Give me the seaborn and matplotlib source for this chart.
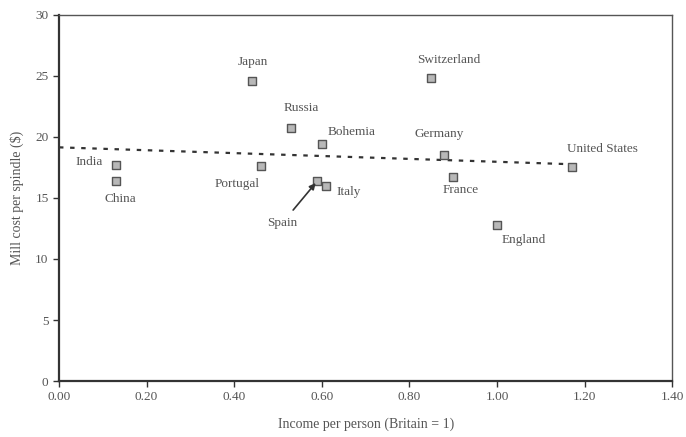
import numpy as np
import pandas as pd
import matplotlib
matplotlib.use("Agg")
import matplotlib.pyplot as plt
import seaborn as sns

countries = ['India', 'China', 'Japan', 'Russia', 'Bohemia', 'Portugal', 'Spain',
             'Italy', 'Switzerland', 'Germany', 'France', 'England', 'United States']
income = [0.13, 0.13, 0.44, 0.53, 0.60, 0.46, 0.59, 0.61, 0.85, 0.88, 0.90, 1.00, 1.17]
mill_cost = [17.7, 16.4, 24.6, 20.7, 19.4, 17.6, 16.4, 16.0, 24.8, 18.5, 16.7, 12.8, 17.5]

df = pd.DataFrame({'Country': countries, 'Income': income, 'Cost': mill_cost})

# label offsets in points (dx, dy) from each marker
offsets = {
    'India': (-19, 2), 'China': (3, -13), 'Japan': (1, 13.5), 'Russia': (7, 14.5),
    'Bohemia': (21.5, 9), 'Portugal': (-17, -12.5), 'Spain': (-25, -30),
    'Italy': (16, -4.5), 'Switzerland': (12.5, 13), 'Germany': (-4, 15.5),
    'France': (5, -9.5), 'England': (19.5, -11), 'United States': (22, 13.5),
}

sns.set_style('ticks')
plt.rcParams['font.family'] = ['Liberation Serif', 'DejaVu Serif']
text_col = '#555555'

fig = plt.figure(figsize=(6.86, 4.37), dpi=100)
ax = fig.add_axes([0.086, 0.128, 0.894, 0.838])

# linear trend line from 0 to the richest country
slope, icpt = np.polyfit(df['Income'], df['Cost'], 1)
xs = np.array([0, df['Income'].max()])
ax.plot(xs, icpt + slope * xs, color='#333333', lw=1.6, ls=(0, (2, 3)), zorder=1)

sns.scatterplot(data=df, x='Income', y='Cost', marker='s', s=32, color='#b8b8b8',
                edgecolor='#555555', linewidth=1.0, ax=ax, zorder=3)

for c, x, y in zip(countries, income, mill_cost):
    dx, dy = offsets[c]
    if c == 'Spain':
        ax.annotate(c, xy=(x, y), xytext=(dx, dy), textcoords='offset points',
                    ha='center', va='center', fontsize=9.5, color=text_col,
                    arrowprops=dict(arrowstyle='-|>', color='#333333', lw=1.2,
                                    shrinkA=3, shrinkB=2, mutation_scale=9))
    else:
        ax.annotate(c, xy=(x, y), xytext=(dx, dy), textcoords='offset points',
                    ha='center', va='center', fontsize=9.5, color=text_col)

ax.set_xlim(0, 1.4)
ax.set_ylim(0, 30)
ax.set_xticks(np.arange(0, 1.41, 0.2))
ax.set_xticklabels([f'{v:.2f}' for v in np.arange(0, 1.41, 0.2)])
ax.set_yticks(range(0, 31, 5))
ax.set_xlabel('Income per person (Britain = 1)', fontsize=10, color=text_col, labelpad=10)
ax.set_ylabel('Mill cost per spindle ($)', fontsize=10, color=text_col, labelpad=8)
ax.tick_params(labelsize=9.5, labelcolor=text_col, color='#333333', length=4, width=1)
for side in ['left', 'bottom']:
    ax.spines[side].set_linewidth(1.6)
    ax.spines[side].set_color('#333333')
for side in ['top', 'right']:
    ax.spines[side].set_linewidth(1.0)
    ax.spines[side].set_color('#555555')

fig.savefig('out.png', dpi=100)
